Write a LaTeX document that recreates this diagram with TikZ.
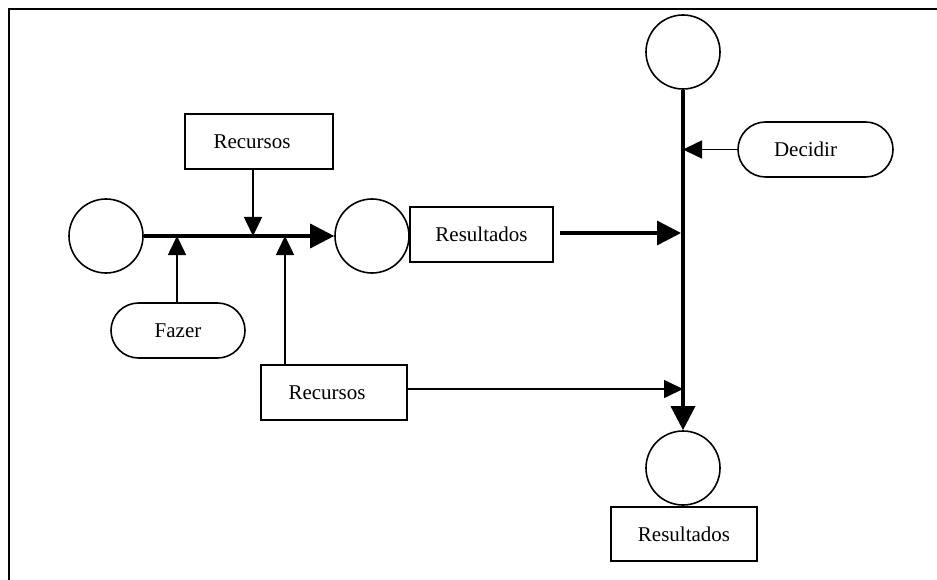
\documentclass[tikz,border=0pt]{standalone}
\usepackage{fontspec}
\setmainfont{Liberation Serif}
\usetikzlibrary{arrows.meta,shapes.misc}
\begin{document}
\begin{tikzpicture}[x=1pt,y=-1pt,
  place/.style={circle,draw,line width=1.6pt,minimum size=74pt,inner sep=0pt},
  box/.style={rectangle,draw,line width=1.6pt,inner sep=0pt,font=\fontsize{21}{24}\selectfont},
  pill/.style={rounded rectangle,draw,line width=1.6pt,inner sep=0pt,font=\fontsize{21}{24}\selectfont},
  thick line/.style={line width=3.4pt,-{Triangle[length=24pt,width=24pt]}},
  thin line/.style={line width=1.6pt,-{Triangle[length=19pt,width=18pt]}}]
\useasboundingbox (0,0) rectangle (937,580);
\draw[line width=2pt] (937,9) -- (9,9) -- (9,580);
% places
\node[place] (c1) at (106,236) {};
\node[place] (c2) at (372,236) {};
\node[place] (c3) at (683,52) {};
\node[place] (c4) at (683,468) {};
% boxes
\node[box,minimum width=148pt,minimum height=55pt] (r1) at (259,141.5) {Recursos\hspace*{14pt}};
\node[box,minimum width=146pt,minimum height=55pt] (r2) at (334,392.5) {Recursos\hspace*{14pt}};
\node[box,minimum width=143pt,minimum height=55pt] (res1) at (481.5,234.5) {Resultados};
\node[box,minimum width=146pt,minimum height=54pt] (res2) at (684,534) {Resultados};
\node[pill,minimum width=134pt,minimum height=55pt] (fazer) at (178,330.5) {Fazer};
\node[pill,minimum width=155pt,minimum height=55pt] (decidir) at (815.5,149.5) {Decidir\hspace*{20pt}};
% junction points
\coordinate (j1) at (253,236);
\coordinate (j2) at (177,236);
\coordinate (j3) at (285,236);
\coordinate (v2) at (681,233);
\coordinate (v3) at (683,389);
\coordinate (s1) at (560,233);
% connectors
\draw[thick line] (c1.east) -- (c2.west);
\draw[thin line] (r1.south -| j1) -- (j1);
\draw[thin line] (fazer.north -| j2) -- (j2);
\draw[thin line] (r2.north -| j3) -- (j3);
\draw[thick line] (c3.south) -- (c4.north);
\draw[thin line] (decidir.west) -- (decidir.west -| c3);
\draw[thick line] (s1) -- (v2);
\draw[thin line] (r2.east |- v3) -- (v3);
\end{tikzpicture}
\end{document}
